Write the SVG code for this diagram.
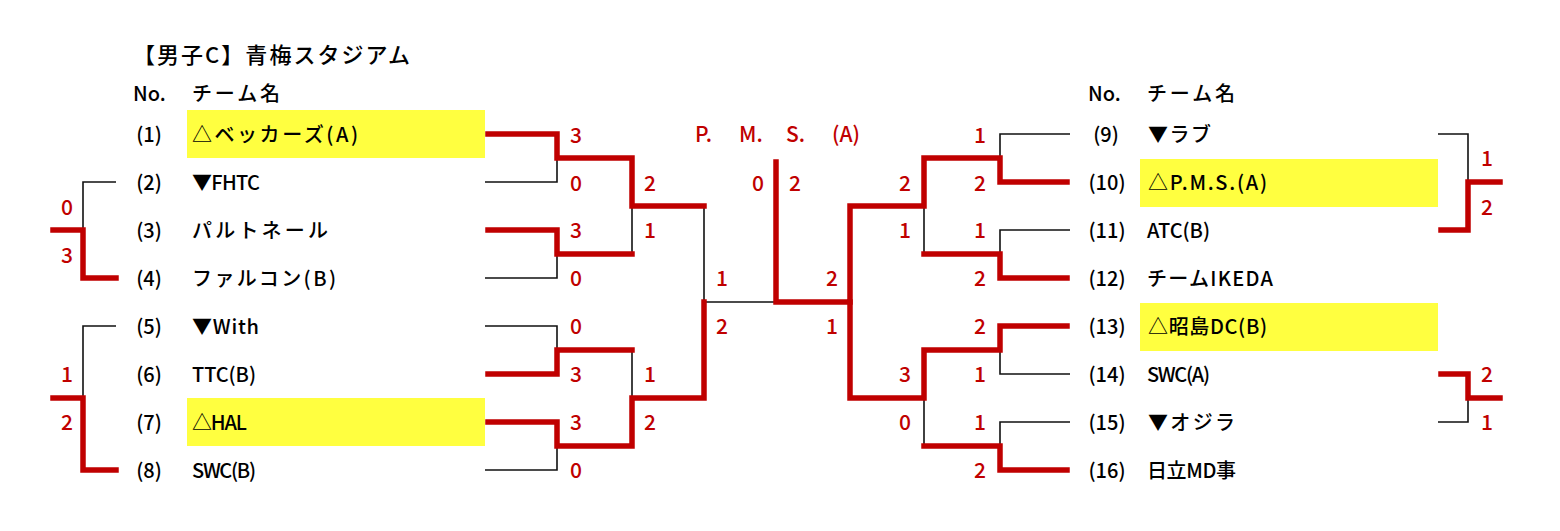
<svg xmlns="http://www.w3.org/2000/svg" width="1560" height="531" viewBox="0 0 1560 531">
<style>
text{font-family:"Noto Sans CJK JP","Noto Sans",sans-serif;font-size:20px;fill:#000;font-weight:500}
.t{font-size:22px}
.no{text-anchor:middle}
.s{fill:#c00000;text-anchor:middle;font-size:21px}
.c{fill:#c00000;font-size:21px}
.hl{fill:#ffff40}
.b{fill:none;stroke:#111;stroke-width:1.6}
.r{fill:none;stroke:#c00000;stroke-width:5.5;stroke-linejoin:miter;stroke-linecap:square}
</style>
<rect width="1560" height="531" fill="#fff"/>
<g id="title">
<text class="t" x="133" y="63" textLength="277" lengthAdjust="spacing">【男子C】青梅スタジアム</text>
</g>
<g id="header-left">
<text x="133" y="101">No.</text>
<text x="192" y="101" textLength="88" lengthAdjust="spacing">チーム名</text>
</g>
<g id="header-right">
<text x="1088" y="101">No.</text>
<text x="1147" y="101" textLength="88" lengthAdjust="spacing">チーム名</text>
</g>
<g id="highlights">
<rect class="hl" x="187" y="110" width="298" height="48"/>
<rect class="hl" x="187" y="398" width="298" height="48"/>
<rect class="hl" x="1140" y="159" width="298" height="48"/>
<rect class="hl" x="1140" y="303" width="298" height="48"/>
</g>
<g id="team1"><text class="no" x="149" y="142">(1)</text><text x="192" y="142" textLength="166" lengthAdjust="spacing">△ベッカーズ(A)</text></g>
<g id="team2"><text class="no" x="149" y="190">(2)</text><text x="192" y="190" textLength="68" lengthAdjust="spacing">▼FHTC</text></g>
<g id="team3"><text class="no" x="149" y="238">(3)</text><text x="192" y="238" textLength="136" lengthAdjust="spacing">パルトネール</text></g>
<g id="team4"><text class="no" x="149" y="286">(4)</text><text x="192" y="286" textLength="144" lengthAdjust="spacing">ファルコン(B)</text></g>
<g id="team5"><text class="no" x="149" y="334">(5)</text><text x="192" y="334" textLength="67" lengthAdjust="spacing">▼With</text></g>
<g id="team6"><text class="no" x="149" y="382">(6)</text><text x="192" y="382" textLength="64" lengthAdjust="spacing">TTC(B)</text></g>
<g id="team7"><text class="no" x="149" y="430">(7)</text><text x="192" y="430" textLength="55" lengthAdjust="spacing">△HAL</text></g>
<g id="team8"><text class="no" x="149" y="478">(8)</text><text x="192" y="478" textLength="64" lengthAdjust="spacing">SWC(B)</text></g>
<g id="team9"><text class="no" x="1106" y="142">(9)</text><text x="1148" y="142" textLength="63" lengthAdjust="spacing">▼ラブ</text></g>
<g id="team10"><text class="no" x="1107" y="190">(10)</text><text x="1148" y="190" textLength="119" lengthAdjust="spacing">△P.M.S.(A)</text></g>
<g id="team11"><text class="no" x="1107" y="238">(11)</text><text x="1147" y="238" textLength="63" lengthAdjust="spacing">ATC(B)</text></g>
<g id="team12"><text class="no" x="1107" y="286">(12)</text><text x="1147" y="286" textLength="126" lengthAdjust="spacing">チームIKEDA</text></g>
<g id="team13"><text class="no" x="1107" y="334">(13)</text><text x="1148" y="334" textLength="119" lengthAdjust="spacing">△昭島DC(B)</text></g>
<g id="team14"><text class="no" x="1107" y="382">(14)</text><text x="1147" y="382" textLength="63" lengthAdjust="spacing">SWC(A)</text></g>
<g id="team15"><text class="no" x="1107" y="430">(15)</text><text x="1148" y="430" textLength="87" lengthAdjust="spacing">▼オジラ</text></g>
<g id="team16"><text class="no" x="1107" y="478">(16)</text><text x="1147" y="478" textLength="89" lengthAdjust="spacing">日立MD事</text></g>
<g id="champion">
<text class="c" y="142"><tspan x="695">P. </tspan><tspan x="739">M. </tspan><tspan x="786">S. </tspan><tspan x="832">(A)</tspan></text>
</g>
<g id="connectors">
<path class="b" d="M485,182H557V158"/>
<path class="b" d="M485,278H557V254"/>
<path class="b" d="M632,206V254"/>
<path class="b" d="M485,326H557V350"/>
<path class="b" d="M485,470H557V446"/>
<path class="b" d="M632,350V398"/>
<path class="b" d="M704,206V302H776"/>
<path class="b" d="M850,302V398"/>
<path class="b" d="M1070,134H1000V158"/>
<path class="b" d="M1070,230H1000V254"/>
<path class="b" d="M924,206V254"/>
<path class="b" d="M1070,374H1000V350"/>
<path class="b" d="M1070,422H1000V446"/>
<path class="b" d="M924,398V446"/>
<path class="b" d="M116,182H83V230"/>
<path class="b" d="M116,326H83V398"/>
<path class="b" d="M1438,134H1468V182"/>
<path class="b" d="M1438,422H1468V398"/>
<path class="r" d="M488,134H557V158H632V206H704"/>
<path class="r" d="M488,230H557V254H632"/>
<path class="r" d="M488,374H557V350H632"/>
<path class="r" d="M488,422H557V446H632V398H704V302"/>
<path class="r" d="M776,162V302H850V206H924V158H1000V182H1067"/>
<path class="r" d="M924,254H1000V278H1067"/>
<path class="r" d="M850,302V398H924V350H1000V326H1067"/>
<path class="r" d="M924,446H1000V470H1067"/>
<path class="r" d="M53,230H83V278H116"/>
<path class="r" d="M53,398H83V470H116"/>
<path class="r" d="M1500,182H1468V230H1441"/>
<path class="r" d="M1441,374H1468V398H1500"/>
</g>
<g id="scores">
<text class="s" x="576" y="143">3</text>
<text class="s" x="576" y="191">0</text>
<text class="s" x="576" y="238">3</text>
<text class="s" x="576" y="286">0</text>
<text class="s" x="576" y="334">0</text>
<text class="s" x="576" y="382">3</text>
<text class="s" x="576" y="430">3</text>
<text class="s" x="576" y="478">0</text>
<text class="s" x="650" y="191">2</text>
<text class="s" x="650" y="238">1</text>
<text class="s" x="650" y="382">1</text>
<text class="s" x="650" y="430">2</text>
<text class="s" x="722" y="286">1</text>
<text class="s" x="722" y="334">2</text>
<text class="s" x="758" y="191">0</text>
<text class="s" x="795" y="191">2</text>
<text class="s" x="832" y="286">2</text>
<text class="s" x="832" y="334">1</text>
<text class="s" x="905" y="191">2</text>
<text class="s" x="905" y="238">1</text>
<text class="s" x="905" y="382">3</text>
<text class="s" x="905" y="430">0</text>
<text class="s" x="980" y="143">1</text>
<text class="s" x="980" y="191">2</text>
<text class="s" x="980" y="238">1</text>
<text class="s" x="980" y="286">2</text>
<text class="s" x="980" y="334">2</text>
<text class="s" x="980" y="382">1</text>
<text class="s" x="980" y="430">1</text>
<text class="s" x="980" y="478">2</text>
<text class="s" x="67" y="215">0</text>
<text class="s" x="67" y="263">3</text>
<text class="s" x="67" y="382">1</text>
<text class="s" x="67" y="430">2</text>
<text class="s" x="1487" y="166">1</text>
<text class="s" x="1487" y="215">2</text>
<text class="s" x="1487" y="382">2</text>
<text class="s" x="1487" y="430">1</text>
</g>
</svg>
